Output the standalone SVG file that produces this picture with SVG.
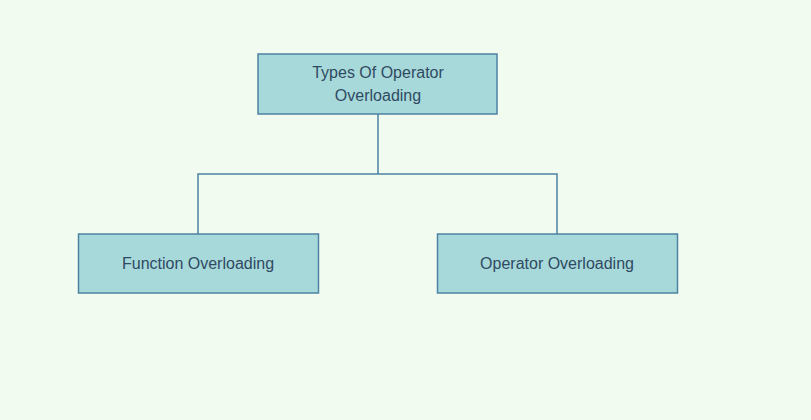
<svg xmlns="http://www.w3.org/2000/svg" width="811" height="420" viewBox="0 0 811 420">
<style>
.box{fill:#a8d9da;stroke:#4d82a3;stroke-width:1.5}
.t{font-family:"Liberation Sans",Arial,sans-serif;font-size:16px;fill:#2f4a62;text-anchor:middle}
.c{fill:none;stroke:#4d82a3;stroke-width:1.5}
</style>
<rect width="811" height="420" fill="#f2fbf0"/>
<g id="connectors">
<path class="c" d="M378 114V174M198 234V174H557V234"/>
</g>
<g id="root">
<rect class="box" x="258" y="54" width="239" height="60"/>
<text class="t" x="378" y="78">Types Of Operator</text>
<text class="t" x="378" y="101">Overloading</text>
</g>
<g id="function">
<rect class="box" x="78.500" y="234" width="240" height="59"/>
<text class="t" x="198" y="269">Function Overloading</text>
</g>
<g id="operator">
<rect class="box" x="437.500" y="234" width="240" height="59"/>
<text class="t" x="557" y="269">Operator Overloading</text>
</g>
</svg>
